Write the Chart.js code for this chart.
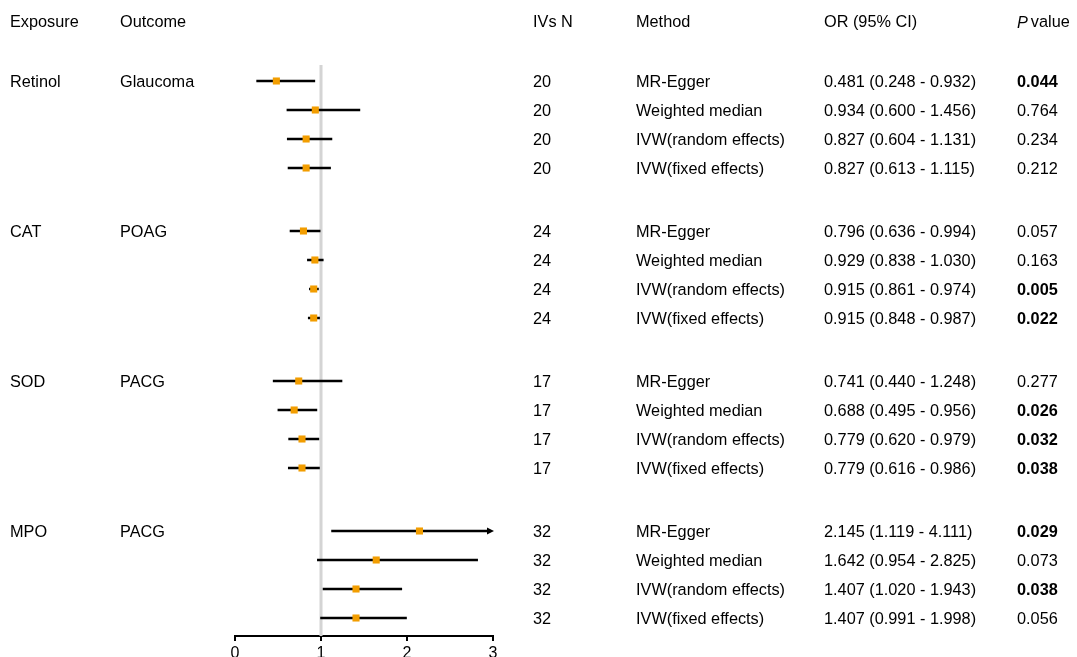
<!DOCTYPE html>
<html>
<head>
<meta charset="utf-8">
<script src="https://cdn.jsdelivr.net/npm/chart.js@4/dist/chart.umd.min.js"></script>
<style>
html,body{margin:0;padding:0;background:#fff;}
#wrap{width:1077px;height:657px;position:relative;}
</style>
</head>
<body>
<div id="wrap"><canvas id="c"></canvas></div>
<script>
const exposures = ['Retinol', 'CAT', 'SOD', 'MPO'];
const outcomes = ['Glaucoma', 'POAG', 'PACG', 'PACG'];
const methods = ['MR-Egger', 'Weighted median', 'IVW(random effects)', 'IVW(fixed effects)'];
const nIVs = [20, 24, 17, 32];
const orValues = [0.481, 0.934, 0.827, 0.827, 0.796, 0.929, 0.915, 0.915, 0.741, 0.688, 0.779, 0.779, 2.145, 1.642, 1.407, 1.407];
const ciLower = [0.248, 0.600, 0.604, 0.613, 0.636, 0.838, 0.861, 0.848, 0.440, 0.495, 0.620, 0.616, 1.119, 0.954, 1.020, 0.991];
const ciUpper = [0.932, 1.456, 1.131, 1.115, 0.994, 1.030, 0.974, 0.987, 1.248, 0.956, 0.979, 0.986, 4.111, 2.825, 1.943, 1.998];
const pValues = ['0.044', '0.764', '0.234', '0.212', '0.057', '0.163', '0.005', '0.022', '0.277', '0.026', '0.032', '0.038', '0.029', '0.073', '0.038', '0.056'];
const xTicks = [0, 1, 2, 3];

const GROUP_GAP = 150 / 29;
function rowPos(k) { return Math.floor(k / 4) * GROUP_GAP + (k % 4); }

const points = orValues.map((v, k) => ({ x: v, y: rowPos(k) }));
const FONT = '"Liberation Sans", Arial, sans-serif';
const FS = 16.3;
const TY = 2;

const forestPlugin = {
  id: 'forest',
  beforeDatasetsDraw(chart) {
    const { ctx, chartArea, scales } = chart;
    const xs = scales.x, ys = scales.y;
    ctx.save();
    const x1 = xs.getPixelForValue(1);
    ctx.strokeStyle = '#d4d4d4';
    ctx.lineWidth = 3;
    ctx.beginPath();
    ctx.moveTo(x1, chartArea.top);
    ctx.lineTo(x1, chartArea.bottom);
    ctx.stroke();
    ctx.strokeStyle = '#000';
    ctx.fillStyle = '#000';
    ctx.lineWidth = 2.5;
    for (let k = 0; k < orValues.length; k++) {
      const y = ys.getPixelForValue(rowPos(k));
      const lo = Math.max(xs.min, ciLower[k]);
      const hi = Math.min(xs.max, ciUpper[k]);
      const xa = xs.getPixelForValue(lo), xb = xs.getPixelForValue(hi);
      ctx.beginPath();
      ctx.moveTo(xa, y);
      ctx.lineTo(ciUpper[k] > xs.max ? xb - 3 : xb, y);
      ctx.stroke();
      if (ciUpper[k] > xs.max) {
        ctx.beginPath();
        ctx.moveTo(xb + 1, y);
        ctx.lineTo(xb - 6, y - 3.5);
        ctx.lineTo(xb - 6, y + 3.5);
        ctx.closePath();
        ctx.fill();
      }
    }
    ctx.restore();
  },
  afterDraw(chart) {
    const { ctx, scales } = chart;
    const ys = scales.y;
    ctx.save();
    ctx.fillStyle = '#000';
    ctx.textBaseline = 'middle';
    ctx.textAlign = 'left';
    const normal = FS + 'px ' + FONT;
    const bold = 'bold ' + FS + 'px ' + FONT;
    const italic = 'italic ' + FS + 'px ' + FONT;
    const hy = ys.getPixelForValue(-60 / 29) + TY;
    ctx.font = normal;
    ctx.fillText('Exposure', 10, hy);
    ctx.fillText('Outcome', 120, hy);
    ctx.fillText('IVs N', 533, hy);
    ctx.fillText('Method', 636, hy);
    ctx.fillText('OR (95% CI)', 824, hy);
    ctx.font = italic;
    ctx.fillText('P', 1017, hy);
    const pw = ctx.measureText('P').width;
    ctx.font = normal;
    ctx.fillText('value', 1017 + pw + 3, hy);
    for (let k = 0; k < orValues.length; k++) {
      const g = Math.floor(k / 4), i = k % 4;
      const y = ys.getPixelForValue(rowPos(k)) + TY;
      ctx.font = normal;
      if (i === 0) {
        ctx.fillText(exposures[g], 10, y);
        ctx.fillText(outcomes[g], 120, y);
      }
      ctx.fillText(String(nIVs[g]), 533, y);
      ctx.fillText(methods[i], 636, y);
      ctx.fillText(orValues[k].toFixed(3) + ' (' + ciLower[k].toFixed(3) + ' - ' + ciUpper[k].toFixed(3) + ')', 824, y);
      ctx.font = parseFloat(pValues[k]) < 0.05 ? bold : normal;
      ctx.fillText(pValues[k], 1017, y);
    }
    ctx.restore();
  }
};

new Chart(document.getElementById('c'), {
  type: 'scatter',
  data: {
    datasets: [{
      data: points,
      pointStyle: 'rect',
      pointRadius: 5,
      pointHoverRadius: 5,
      backgroundColor: '#F29D00',
      borderWidth: 0
    }]
  },
  plugins: [forestPlugin],
  options: {
    responsive: true,
    maintainAspectRatio: false,
    animation: false,
    events: [],
    layout: { padding: { left: 235, right: 584, top: 65, bottom: 0 } },
    plugins: { legend: { display: false }, tooltip: { enabled: false } },
    scales: {
      x: {
        type: 'linear',
        min: 0,
        max: 3,
        afterBuildTicks: (s) => { s.ticks = xTicks.map(v => ({ value: v })); },
        afterFit: (s) => { s.height = 21; },
        ticks: { color: '#000', font: { family: FONT, size: 16 }, padding: 3, maxRotation: 0 },
        grid: { drawOnChartArea: false, drawTicks: true, tickLength: 5, color: '#000', lineWidth: 2 },
        border: { display: true, color: '#000', width: 2 }
      },
      y: {
        type: 'linear',
        display: false,
        reverse: true,
        min: -16 / 29,
        max: 555 / 29
      }
    }
  }
});
</script>
</body>
</html>
